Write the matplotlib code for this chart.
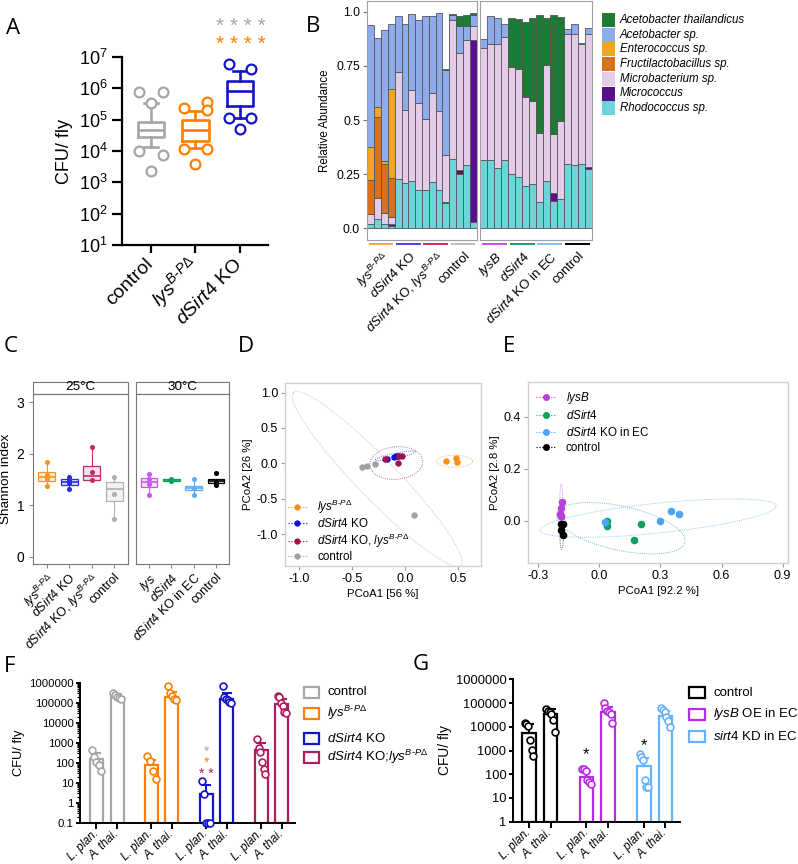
import numpy as np
import matplotlib.pyplot as plt
from matplotlib.lines import Line2D
from matplotlib.patches import Rectangle
from matplotlib.colors import to_rgba

W, H = 798, 864
plt.rcParams['font.family'] = ['Liberation Sans', 'DejaVu Sans']
plt.rcParams['mathtext.fontset'] = 'custom'
plt.rcParams['mathtext.rm'] = 'Liberation Sans'
plt.rcParams['mathtext.it'] = 'Liberation Sans:italic'
plt.rcParams['mathtext.sf'] = 'Liberation Sans'

HY = '\u2010'
LYS = r'$\mathit{lys}^{\mathit{B' + HY + r'P\Delta}}$'
LYS_F = r'$\mathit{lys}^{\mathit{B' + HY + r'P}\Delta}$'
DSIRT = r'$\mathit{dSirt4}$'

# ---------------- A: CFU per fly ----------------
a_groups = ['control', LYS, DSIRT + ' KO']
a_colors = ['#A6A6A6', '#FF8000', '#1414C8']
a_q1 = [2.7e4, 2.1e4, 2.7e5]
a_med = [4.7e4, 4.6e4, 8.5e5]
a_q3 = [8.7e4, 1.0e5, 1.75e6]
a_lo = [1.3e4, 1.25e4, 1.15e5]
a_hi = [3.5e5, 1.9e5, 3.7e6]
a_pts = [[7.5e5, 7.5e5, 3.5e5, 1.0e4, 7.7e3, 2.3e3],
         [2.4e5, 3.7e5, 2.0e5, 1.2e4, 1.2e4, 3.9e3],
         [5.9e6, 4.0e6, 1.15e5, 1.15e5, 5.0e4]]

# ---------------- B: relative abundance ----------------
b_taxa = ['Acetobacter thailandicus', 'Acetobacter sp.', 'Enterococcus sp.',
          'Fructilactobacillus sp.', 'Microbacterium sp.', 'Micrococcus', 'Rhodococcus sp.']
b_colors = ['#1E7B33', '#8EACEC', '#F2A51F', '#D9701A', '#E4CCE8', '#590E8F', '#6DD5DA']
# 25 degC, 16 samples (4 per genotype)
b25_rhodo = [0.018, 0.043, 0.018, 0.011, 0.230, 0.210, 0.217, 0.176,
             0.176, 0.214, 0.176, 0.115, 0.322, 0.253, 0.291, 0.031]
b25_micrococ = [0, 0, 0, 0.007, 0, 0, 0, 0, 0, 0, 0, 0.007, 0, 0.018, 0, 0.838]
b25_microbac = [0.048, 0.099, 0.051, 0.033, 0.490, 0.337, 0.422, 0.401,
                0.329, 0.409, 0.365, 0.215, 0.638, 0.541, 0.577, 0.065]
b25_fructi = [0.156, 0.374, 0.230, 0.182, 0, 0, 0, 0, 0, 0, 0, 0, 0, 0, 0, 0]
b25_entero = [0.153, 0.043, 0.012, 0.410, 0, 0, 0, 0, 0, 0, 0, 0, 0, 0, 0, 0]
b25_aceto = [0.564, 0.321, 0.603, 0.299, 0.260, 0.395, 0.353, 0.385,
             0.478, 0.357, 0.453, 0.395, 0.025, 0.122, 0.066, 0.051]
b25_athai = [0, 0, 0, 0, 0, 0, 0, 0, 0, 0, 0, 0.005, 0.006, 0.048, 0.051, 0.011]
# 30 degC
b30_rhodo = [0.314, 0.314, 0.279, 0.314, 0.253, 0.237, 0.195, 0.204,
             0.123, 0.217, 0.126, 0.135, 0.296, 0.291, 0.296, 0.276]
b30_micrococ = [0, 0, 0, 0, 0, 0, 0, 0, 0, 0, 0.038, 0, 0, 0, 0, 0.007]
b30_microbac = [0.518, 0.536, 0.571, 0.570, 0.490, 0.501, 0.410, 0.383,
                0.317, 0.536, 0.272, 0.360, 0.600, 0.608, 0.554, 0.616]
b30_fructi = [0] * 16
b30_entero = [0] * 16
b30_aceto = [0.041, 0.130, 0.120, 0.058, 0, 0, 0.005, 0, 0, 0, 0, 0, 0.023, 0.046, 0.008, 0.028]
b30_athai = [0, 0, 0, 0, 0.227, 0.227, 0.343, 0.385, 0.545, 0.217, 0.549, 0.480, 0, 0, 0, 0]
b25_groups = [LYS, DSIRT + ' KO', DSIRT + ' KO, ' + LYS, 'control']
b30_groups = [r'$\mathit{lysB}$', DSIRT, DSIRT + ' KO in EC', 'control']
b25_gcol = ['#F9A04B', '#4646E0', '#D02A66', '#BDBDBD']
b30_gcol = ['#D448F0', '#12A062', '#86BAF6', '#000000']

# ---------------- C: Shannon index ----------------
c25_labels = [LYS, DSIRT + ' KO', DSIRT + ' KO, ' + LYS, 'control']
c30_labels = [r'$\mathit{lys}$', DSIRT, DSIRT + ' KO in EC', 'control']
c25_colors = ['#F7941D', '#2B2BD9', '#C22B6B', '#B0B0B0']
c30_colors = ['#CC55EE', '#0E9E5B', '#5EACF6', '#000000']
c25_q1 = [1.47, 1.39, 1.49, 1.08]
c25_med = [1.54, 1.45, 1.57, 1.31]
c25_q3 = [1.65, 1.51, 1.76, 1.45]
c25_lo = [1.37, 1.32, 1.49, 0.72]
c25_hi = [1.84, 1.55, 2.12, 1.54]
c25_pts = [[1.84, 1.58, 1.50, 1.37], [1.55, 1.49, 1.42, 1.32],
           [2.12, 1.65, 1.49], [1.54, 1.22, 0.72]]
c30_q1 = [1.35, 1.46, 1.29, 1.43]
c30_med = [1.44, 1.48, 1.34, 1.47]
c30_q3 = [1.52, 1.50, 1.37, 1.50]
c30_lo = [1.20, 1.46, 1.20, 1.39]
c30_hi = [1.60, 1.51, 1.50, 1.50]
c30_pts = [[1.60, 1.50, 1.41, 1.20], [1.51, 1.48, 1.46],
           [1.50, 1.33, 1.20], [1.63, 1.44, 1.39]]

# ---------------- D: PCoA 25 degC ----------------
d_labels = [LYS, DSIRT + ' KO', DSIRT + ' KO, ' + LYS, 'control']
d_colors = ['#FF8C1A', '#1010D0', '#A01050', '#A0A0A0']
d_x = [[0.39, 0.48, 0.49], [-0.17, -0.10, -0.08, -0.06],
       [-0.19, -0.05, -0.03, -0.06], [-0.40, -0.36, -0.28, 0.09]]
d_y = [[0.03, 0.07, 0.02], [0.065, 0.09, 0.10, 0.105],
       [0.065, 0.105, 0.11, 0.0], [-0.048, -0.038, -0.005, -0.727]]
# ellipse centre and the two semi-axis vectors
d_ell = [((0.47, 0.03), (0.17, 0.0), (0.0, 0.085)),
         ((-0.09, 0.106), (0.19, 0.059), (-0.005, 0.035)),
         ((-0.08, 0.005), (0.25, 0.03), (-0.01, 0.23)),
         ((-0.26, -0.22), (-0.79, 1.22), (0.136, 0.198))]

# ---------------- E: PCoA 30 degC ----------------
e_labels = [r'$\mathit{lysB}$', DSIRT, DSIRT + ' KO in EC', 'control']
e_colors = ['#B83FE0', '#10A060', '#4DA3F7', '#000000']
e_x = [[-0.185, -0.187, -0.194, -0.190, -0.186], [0.037, 0.037, 0.204, 0.170],
       [0.029, 0.296, 0.353, 0.392], [-0.19, -0.18, -0.19, -0.18]]
e_y = [[0.073, 0.047, 0.025, 0.017, 0.019], [-0.003, -0.019, -0.014, -0.073],
       [-0.005, -0.002, 0.036, 0.025], [-0.013, -0.014, -0.036, -0.056]]
e_ell = [((-0.187, 0.045), (0.0, 0.095), (0.008, 0.0)),
         ((0.105, -0.029), (0.315, -0.054), (0.023, 0.083)),
         ((0.288, 0.01), (0.58, 0.047), (-0.0076, 0.057)),
         ((-0.183, -0.04), (0.003, 0.07), (0.01, 0.0))]

# ---------------- F: species CFU ----------------
f_labels = ['control', LYS_F, DSIRT + ' KO', DSIRT + ' KO;' + LYS_F]
f_colors = ['#A6A6A6', '#FF8000', '#1414C8', '#B3195E']
f_species = ['L. plan.', 'A. thai.']
f_mean = [[150, 200000], [75, 200000], [2.7, 160000], [450, 90000]]
f_err = [[300, 260000], [140, 350000], [7.6, 300000], [1000, 150000]]
f_pts = [[[420, 200, 110, 80, 40], [300000, 250000, 200000, 170000, 150000]],
         [[220, 120, 40, 16], [650000, 300000, 220000, 160000, 130000]],
         [[12, 2.7, 0.1, 0.1, 0.1], [700000, 200000, 160000, 130000, 110000, 100000]],
         [[1600, 550, 330, 110, 50, 28], [220000, 190000, 100000, 70000, 35000, 30000]]]

# ---------------- G: species CFU, EC manipulation ----------------
g_labels = ['control', r'$\mathit{lysB}$ OE in EC', r'$\mathit{sirt4}$ KD in EC']
g_colors = ['#000000', '#B82BE6', '#66B2FF']
g_mean = [[5600, 35000], [80, 42000], [230, 28000]]
g_err = [[12600, 55000], [140, 65000], [500, 48000]]
g_pts = [[[15000, 13000, 11000, 2800, 1050, 600], [58000, 48000, 42000, 36000, 19000, 6200]],
         [[170, 160, 140, 55, 45, 38], [102000, 60000, 45000, 40000, 35000, 14000]],
         [[700, 520, 400, 58, 30, 28], [63000, 50000, 40000, 25000, 18000, 10000]]]


fig = plt.figure(figsize=(W / 100, H / 100), dpi=100)


def px_axes(x0, y0, x1, y1):
    return fig.add_axes([x0 / W, 1 - y1 / H, (x1 - x0) / W, (y1 - y0) / H])


def ellipse_line(ax, c, u, v, color):
    t = np.linspace(0, 2 * np.pi, 200)
    xs = c[0] + u[0] * np.cos(t) + v[0] * np.sin(t)
    ys = c[1] + u[1] * np.cos(t) + v[1] * np.sin(t)
    ax.plot(xs, ys, color=color, lw=0.7, ls=(0, (1, 1.2)), alpha=0.6)


# ---- A ----
axA = px_axes(122, 57, 268, 245)
axA.set_yscale('log')
axA.set_ylim(10, 1e7)
axA.set_xlim(0.35, 3.63)
a_dx = [[-0.27, 0.27, 0, -0.27, 0.27, 0],
        [-0.25, 0.25, 0.25, -0.25, 0.25, 0],
        [-0.25, 0.25, -0.25, 0.25, 0.0]]
for i, c in enumerate(a_colors):
    st = dict(q1=a_q1[i], med=a_med[i], q3=a_q3[i], whislo=a_lo[i], whishi=a_hi[i])
    lp = dict(color=c, lw=1.9)
    axA.bxp([st], positions=[i + 1], widths=0.6, capwidths=0.32, showfliers=False,
            boxprops=lp, whiskerprops=lp, capprops=lp, medianprops=lp)
    axA.scatter(i + 1 + np.array(a_dx[i]), a_pts[i], s=50, facecolor='white',
                edgecolor=c, lw=1.6, zorder=3, clip_on=False)
axA.set_xticks([1, 2, 3])
axA.set_xticklabels(a_groups, rotation=45, ha='right', va='center', rotation_mode='anchor',
                    fontsize=14)
axA.set_yticks([10.0 ** k for k in range(1, 8)])
axA.set_yticklabels([r'$\mathregular{10^{%d}}$' % k for k in range(1, 8)], fontsize=13)
axA.tick_params(axis='y', which='major', length=7, width=1.6)
axA.tick_params(axis='y', which='minor', length=3.5, width=1.1)
axA.tick_params(axis='x', length=6, width=1.6, pad=6)
for s in ['top', 'right']:
    axA.spines[s].set_visible(False)
for s in ['left', 'bottom']:
    axA.spines[s].set_linewidth(1.6)
axA.set_ylabel('CFU/ fly', fontsize=13, labelpad=4)

# ---- B ----
b_stack25 = [b25_rhodo, b25_micrococ, b25_microbac, b25_fructi, b25_entero, b25_aceto, b25_athai]
b_stack30 = [b30_rhodo, b30_micrococ, b30_microbac, b30_fructi, b30_entero, b30_aceto, b30_athai]
stack_colors = b_colors[::-1]
axB1 = px_axes(367, 1, 477, 240)
axB2 = px_axes(480, 1, 592, 240)
for ax, stack, groups, gcol in [(axB1, b_stack25, b25_groups, b25_gcol),
                                (axB2, b_stack30, b30_groups, b30_gcol)]:
    x = np.arange(16)
    bottom = np.zeros(16)
    for vals, col in zip(stack, stack_colors):
        vals = np.array(vals, dtype=float)
        m = vals > 0
        ax.bar(x[m], vals[m], bottom=bottom[m], width=1, color=col,
               edgecolor='#555555', lw=0.6)
        bottom += vals
    ax.set_xlim(-0.55, 15.55)
    ax.set_ylim(-0.054, 1.05)
    ax.set_xticks([])
    for s in ax.spines.values():
        s.set_color('#A0A0A0')
        s.set_linewidth(0.8)
    for g in range(4):
        ax.plot([4 * g - 0.3, 4 * g + 3.3], [-0.073, -0.073], color=gcol[g], lw=1.4,
                clip_on=False, solid_capstyle='butt')
        ax.text(4 * g + 1.6, -0.1, groups[g], rotation=45, ha='right', va='top',
                rotation_mode='anchor', fontsize=9.5)
axB1.set_yticks([0, 0.25, 0.5, 0.75, 1.0])
axB1.set_yticklabels(['0.0', '0.25', '0.5', '0.75', '1.0'], fontsize=8.7)
axB1.tick_params(axis='y', length=3, color='#777777', pad=2)
axB2.set_yticks([])
axB1.set_ylabel('Relative Abundance', fontsize=8.3, labelpad=4)

# ---- C ----
axC1 = px_axes(33.3, 394.3, 127.7, 564.3)
axC2 = px_axes(135.7, 394.3, 229.3, 564.3)
for ax, labels, cols, q1, med, q3, lo, hi, pts, title in [
        (axC1, c25_labels, c25_colors, c25_q1, c25_med, c25_q3, c25_lo, c25_hi, c25_pts, '25°C'),
        (axC2, c30_labels, c30_colors, c30_q1, c30_med, c30_q3, c30_lo, c30_hi, c30_pts, '30°C')]:
    for i, c in enumerate(cols):
        st = dict(q1=q1[i], med=med[i], q3=q3[i], whislo=lo[i], whishi=hi[i])
        ax.bxp([st], positions=[i + 1], widths=0.75, showfliers=False, showcaps=False,
               patch_artist=True,
               boxprops=dict(facecolor=to_rgba(c, 0.15), edgecolor=c, lw=0.9),
               whiskerprops=dict(color=c, lw=0.8), medianprops=dict(color=c, lw=1.2))
        ax.scatter(np.full(len(pts[i]), i + 1), pts[i], s=7, color=c, zorder=3)
    ax.set_xlim(0.4, 4.6)
    ax.set_ylim(-0.15, 3.15)
    ax.set_xticks([1, 2, 3, 4])
    ax.set_xticklabels(labels, rotation=45, ha='right', va='top', rotation_mode='anchor',
                       fontsize=9)
    ax.tick_params(axis='x', length=3, color='#888888', pad=2)
    for s in ax.spines.values():
        s.set_color('#777777')
        s.set_linewidth(0.8)
    ax.text(0.5, 1.005, title, transform=ax.transAxes, ha='center', va='bottom', fontsize=9.7)
    ax.add_patch(Rectangle((0, 1), 1, 12.6 / 170, transform=ax.transAxes, fill=False,
                           ec='#777777', lw=0.8, clip_on=False))
for tk, c in zip(axC1.xaxis.get_major_ticks(), c25_colors):
    tk.tick1line.set_color(c)
axC1.set_yticks([0, 1, 2, 3])
axC1.set_yticklabels(['0', '1', '2', '3'], fontsize=10)
axC1.tick_params(axis='y', length=3, color='#888888')
axC2.set_yticks([])
axC1.set_ylabel('Shannon index', fontsize=9.7, labelpad=3)

# ---- D ----
axD = px_axes(285, 382.7, 481, 566)
for i, c in enumerate(d_colors):
    ellipse_line(axD, *d_ell[i], color=c)
    axD.scatter(d_x[i], d_y[i], s=13, color=c, zorder=3)
axD.set_xlim(-1.13, 0.72)
axD.set_ylim(-1.45, 1.14)
axD.set_xticks([-1.0, -0.5, 0.0, 0.5])
axD.set_xticklabels(['-1.0', '-0.5', '0.0', '0.5'], fontsize=9)
axD.set_yticks([-1.0, -0.5, 0.0, 0.5, 1.0])
axD.set_yticklabels(['-1.0', '-0.5', '0.0', '0.5', '1.0'], fontsize=9)
axD.set_xlabel('PCoA1 [56 %]', fontsize=8.2, labelpad=3)
axD.set_ylabel('PCoA2 [26 %]', fontsize=8.2, labelpad=3)
hD = [Line2D([], [], color=c, marker='o', ms=3.5, ls=':', lw=0.8) for c in d_colors]
axD.legend(hD, d_labels, loc='lower left', frameon=False, fontsize=8.4, handlelength=1.6,
           handletextpad=0.9, labelspacing=0.12, borderaxespad=0.05, borderpad=0.2)

# ---- E ----
axE = px_axes(528.3, 381.7, 788.3, 563.3)
for i, c in enumerate(e_colors):
    ellipse_line(axE, *e_ell[i], color=c)
    axE.scatter(e_x[i], e_y[i], s=20, color=c, zorder=3)
axE.set_xlim(-0.349, 0.928)
axE.set_ylim(-0.164, 0.535)
axE.set_xticks([-0.3, 0.0, 0.3, 0.6, 0.9])
axE.set_xticklabels(['-0.3', '0.0', '0.3', '0.6', '0.9'], fontsize=9)
axE.set_yticks([0.0, 0.2, 0.4])
axE.set_yticklabels(['0.0', '0.2', '0.4'], fontsize=9)
axE.set_xlabel('PCoA1 [92.2 %]', fontsize=8.2, labelpad=3)
axE.set_ylabel('PCoA2 [2.8 %]', fontsize=8.2, labelpad=3)
hE = [Line2D([], [], color=c, marker='o', ms=4, ls=':', lw=0.8) for c in e_colors]
axE.legend(hE, e_labels, loc='upper left', frameon=False, fontsize=8.4, handlelength=1.6,
           handletextpad=0.9, labelspacing=0.3, borderaxespad=0.3)

for ax in (axD, axE):
    for s in ax.spines.values():
        s.set_color('#D0D0D0')
        s.set_linewidth(1.0)
    ax.tick_params(length=3, color='#999999', pad=2)


# ---- F and G ----
def cfu_bars(ax, mean, err, pts, colors, ylow, tick_fs, lab_fs):
    xt, xl = [], []
    for g, c in enumerate(colors):
        for k in range(2):
            x = g * 2.67 + k
            ax.bar(x, mean[g][k] - ylow, bottom=ylow, width=0.63, facecolor='none',
                   edgecolor=c, lw=1.6, zorder=2)
            ax.errorbar(x, mean[g][k], yerr=[[0], [err[g][k] - mean[g][k]]], fmt='none',
                        ecolor=c, elinewidth=1.5, capsize=3.5, capthick=1.5, zorder=2)
            n = len(pts[g][k])
            ax.scatter(x + np.linspace(-0.2, 0.2, n), pts[g][k], s=24, facecolor='white',
                       edgecolor=c, lw=1.2, zorder=3, clip_on=False)
            xt.append(x)
            xl.append(f_species[k])
    ax.set_yscale('log')
    ax.set_xticks(xt)
    ax.set_xticklabels(xl, rotation=45, ha='right', va='center', rotation_mode='anchor',
                       fontsize=8.4, style='italic')
    for s in ['top', 'right']:
        ax.spines[s].set_visible(False)
    for s in ['left', 'bottom']:
        ax.spines[s].set_linewidth(1.4)
    ax.tick_params(axis='x', which='major', length=4, width=1.4, pad=2.5)
    ax.tick_params(axis='y', which='major', length=3, width=1.4, pad=1.5, labelsize=tick_fs)
    ax.tick_params(axis='y', which='minor', length=2, width=0.9)
    ax.set_ylabel('CFU/ fly', fontsize=lab_fs, labelpad=3)


axF = px_axes(80, 682.7, 295, 822.7)
cfu_bars(axF, f_mean, f_err, f_pts, f_colors, 0.1, 8.2, 9.3)
axF.set_ylim(0.1, 1e6)
axF.set_xlim(-0.8, 9.65)
axF.set_yticks([0.1, 1, 10, 100, 1000, 10000, 100000, 1000000])
axF.set_yticklabels(['0.1', '1', '10', '100', '1000', '10000', '100000', '1000000'])

axG = px_axes(512.7, 679.3, 680, 821.7)
cfu_bars(axG, g_mean, g_err, g_pts, g_colors, 1, 9.3, 9.9)
axG.set_ylim(1, 1e6)
axG.set_xlim(-0.76, 7.02)
axG.set_yticks([1, 10, 100, 1000, 10000, 100000, 1000000])
axG.set_yticklabels(['1', '10', '100', '1000', '10000', '100000', '1000000'])

# ---- overlay: panel letters, stars, legends ----
ov = fig.add_axes([0, 0, 1, 1])
ov.set_xlim(0, W)
ov.set_ylim(H, 0)
ov.axis('off')
for lab, x, y in [('A', 6, 28), ('B', 306, 27), ('C', 4, 347), ('D', 238, 347),
                  ('E', 503, 347), ('F', 4, 666), ('G', 413, 665)]:
    ov.text(x, y, lab, fontsize=16, va='center', ha='left', family=['Open Sans', 'DejaVu Sans'])
ov.text(241, 27, '* * * *', color=a_colors[0], fontsize=15, ha='center', va='center')
ov.text(241, 45, '* * * *', color=a_colors[1], fontsize=15, ha='center', va='center')

# B legend
for i, (t, c) in enumerate(zip(b_taxa, b_colors)):
    y = 20 + i * 14.7
    ov.add_patch(Rectangle((602, y - 7), 13, 14, facecolor=c, edgecolor='none'))
    ov.text(620, y, t, fontsize=8.3, style='italic', va='center')

# F legend + stars
for t, c, y in zip(f_labels, f_colors, [692, 713, 738, 757]):
    ov.add_patch(Rectangle((304, y - 5.5), 15, 11, facecolor='white', edgecolor=c, lw=1.6))
    ov.text(327, y, t, fontsize=9.5, va='center')
ov.text(206.7, 752, '*', color=f_colors[0], fontsize=10, ha='center', va='center')
ov.text(206.7, 763, '*', color=f_colors[1], fontsize=10, ha='center', va='center')
ov.text(206.7, 774, '* *', color=f_colors[3], fontsize=10, ha='center', va='center')

# G legend + stars
for t, c, y in zip(g_labels, g_colors, [692.7, 714, 736]):
    ov.add_patch(Rectangle((688.5, y - 5.5), 16, 11, facecolor='white', edgecolor=c, lw=1.6))
    ov.text(713, y, t, fontsize=9.5, va='center')
ov.text(586.3, 755, '*', color='black', fontsize=12, ha='center', va='center')
ov.text(644.3, 746, '*', color='black', fontsize=12, ha='center', va='center')

fig.savefig('out.png', dpi=100)
